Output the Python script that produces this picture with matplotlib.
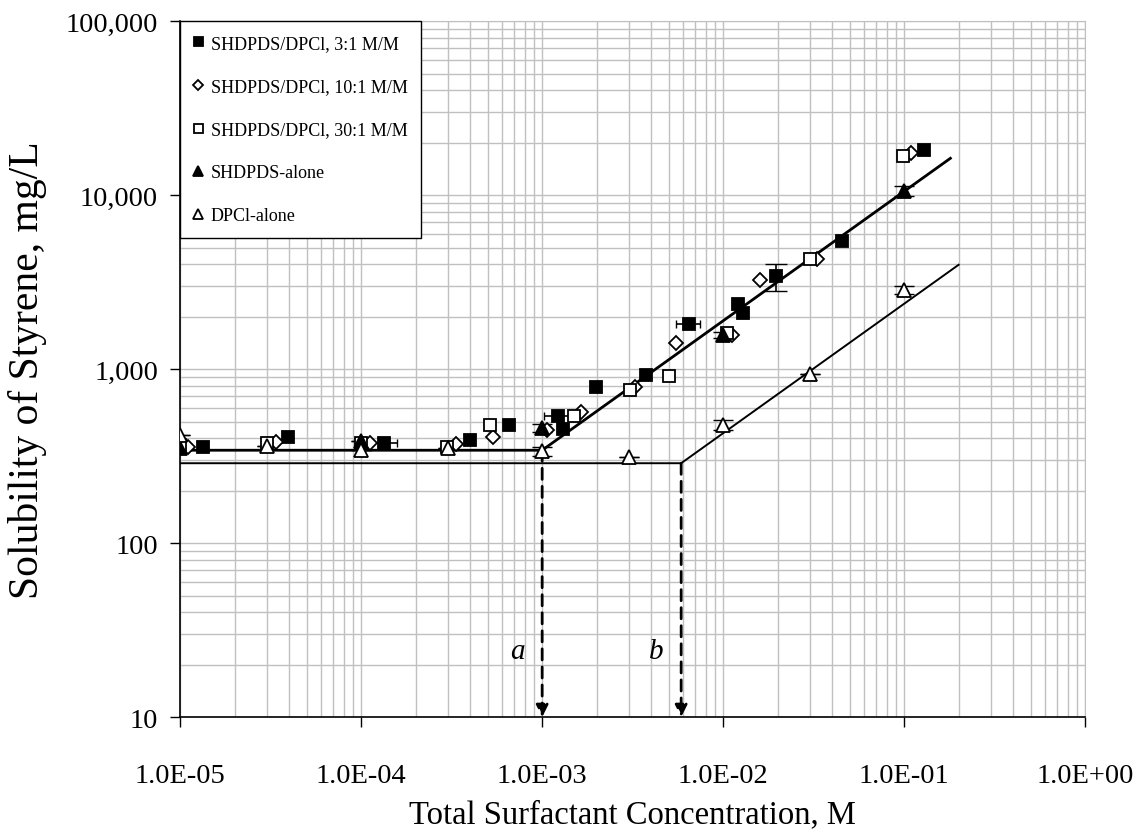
import numpy as np
import matplotlib
matplotlib.use("Agg")
import matplotlib.pyplot as plt
from matplotlib.ticker import FixedLocator, LogLocator, NullFormatter

plt.rcParams["font.family"] = ["Liberation Serif", "DejaVu Serif"]

# ---- measured solubility data (total surfactant M, styrene mg/L) ----
mix31_x = [1.34e-5, 3.96e-5, 1.33e-4, 4.0e-4, 6.6e-4, 1.23e-3, 1.31e-3, 1.99e-3,
           3.76e-3, 6.49e-3, 1.21e-2, 1.28e-2, 1.96e-2, 4.56e-2, 0.128]
mix31_y = [359, 405, 375, 392, 475, 539, 454, 785,
           927, 1821, 2364, 2099, 3437, 5420, 18200]

mix101_x = [1.11e-5, 3.39e-5, 1.12e-4, 3.35e-4, 5.38e-4, 1.06e-3, 1.64e-3, 3.26e-3,
            5.48e-3, 1.12e-2, 1.60e-2, 3.29e-2, 0.109]
mix101_y = [356, 381, 375, 371, 405, 448, 571, 785,
            1423, 1562, 3260, 4290, 17430]

mix301_x = [1.0e-5, 3.01e-5, 1.0e-4, 2.97e-4, 5.13e-4, 1.5e-3, 3.06e-3, 5.05e-3,
            1.05e-2, 3.03e-2, 0.0984]
mix301_y = [365, 377, 375, 359, 475, 539, 761, 908,
            1610, 4290, 16700]

shdpds_x = [1.0e-5, 1.0e-4, 1.0e-3, 1.0e-2, 0.1]
shdpds_y = [351, 385, 458, 1575, 10580]

dpcl_x = [1.0e-5, 3.0e-5, 1.0e-4, 3.0e-4, 1.0e-3, 3.0e-3, 1.0e-2, 3.0e-2, 0.1]
dpcl_y = [419, 361, 344, 350, 337, 311, 478, 936, 2855]

# error bars on selected points
mix31_err_x = [1.33e-4, 1.23e-3, 6.49e-3]
mix31_err_y = [375, 539, 1821]
mix31_err_dx = [0.25e-4, 0.2e-3, 1.0e-3]
mix31_bar_x = [1.96e-2]
mix31_bar_y = [3437]
mix31_bar_lo = [2818]
mix31_bar_hi = [4030]
shdpds_bar_dy = [0, 0, 25, 60, 700]
dpcl_bar_dy = [0, 0, 0, 0, 20, 0, 30, 0, 150]

# piecewise fits: constant below the break, power law above
fit_a_break, fit_a_level, fit_a_end = 1.0e-3, 342.0, 0.18
fit_b_break, fit_b_level, fit_b_end = 5.86e-3, 288.0, 0.20
fit_slope = 0.744

series_labels = ["SHDPDS/DPCl, 3:1 M/M", "SHDPDS/DPCl, 10:1 M/M",
                 "SHDPDS/DPCl, 30:1 M/M", "SHDPDS-alone", "DPCl-alone"]
x_ticks = [1e-5, 1e-4, 1e-3, 1e-2, 1e-1, 1e0]
x_tick_labels = ["1.0E-05", "1.0E-04", "1.0E-03", "1.0E-02", "1.0E-01", "1.0E+00"]
y_ticks = [10, 100, 1000, 10000, 100000]
y_tick_labels = ["10", "100", "1,000", "10,000", "100,000"]

fig = plt.figure(figsize=(11.33, 8.37), dpi=100)
ax = fig.add_axes([0.159, 0.142, 0.7988, 0.8315])
ax.set_xscale("log")
ax.set_yscale("log")
ax.set_xlim(1e-5, 1.0)
ax.set_ylim(10, 100000)

grid_c = "#c0c0c0"
ax.xaxis.set_minor_locator(LogLocator(base=10, subs=np.arange(2, 10)))
ax.yaxis.set_minor_locator(LogLocator(base=10, subs=np.arange(2, 10)))
ax.xaxis.set_minor_formatter(NullFormatter())
ax.yaxis.set_minor_formatter(NullFormatter())
ax.grid(True, which="both", color=grid_c, lw=1.0)
ax.set_axisbelow(True)
ax.tick_params(which="minor", length=0)
ax.tick_params(which="major", direction="out", length=7, width=1, color="black",
               labelsize=20.5)
ax.tick_params(axis="x", pad=26)
ax.tick_params(axis="y", pad=9)
ax.xaxis.set_major_locator(FixedLocator(x_ticks))
ax.set_xticklabels(x_tick_labels)
ax.yaxis.set_major_locator(FixedLocator(y_ticks))
ax.set_yticklabels(y_tick_labels)
for side in ("top", "right"):
    ax.spines[side].set_color(grid_c)
for side in ("left", "bottom"):
    ax.spines[side].set_color("black")
    ax.spines[side].set_linewidth(1.2)

# fitted lines
def fit_line(brk, level, end):
    xs = np.array([1e-5, brk, end])
    ys = np.where(xs <= brk, level, level * (xs / brk) ** fit_slope)
    return xs, ys

xa, ya = fit_line(fit_a_break, fit_a_level, fit_a_end)
xb, yb = fit_line(fit_b_break, fit_b_level, fit_b_end)
ax.plot(xa, ya, color="black", lw=2.0, zorder=2)
ax.plot(xb, yb, color="black", lw=1.4, zorder=2)

# dashed drop lines to the x axis
for brk, lvl in ((fit_a_break, fit_a_level), (fit_b_break, fit_b_level)):
    ax.annotate("", xy=(brk, 10), xytext=(brk, lvl),
                arrowprops=dict(arrowstyle="-|>", color="black", lw=2.0,
                                linestyle=(0, (4, 2.5)), mutation_scale=18,
                                shrinkA=0, shrinkB=0), zorder=2)
ax.text(fit_a_break * 0.8, 24, "a", fontsize=21, style="italic",
        ha="right", va="center")
ax.text(fit_b_break * 0.8, 24, "b", fontsize=21, style="italic",
        ha="right", va="center")

ms = 9
mew = 1.3
# error bars
ax.errorbar(mix31_err_x, mix31_err_y, xerr=mix31_err_dx, fmt="none",
            ecolor="black", elinewidth=1.2, capsize=3, zorder=3)
ax.errorbar(mix31_bar_x, mix31_bar_y,
            yerr=[np.subtract(mix31_bar_y, mix31_bar_lo),
                  np.subtract(mix31_bar_hi, mix31_bar_y)],
            fmt="none", ecolor="black", elinewidth=1.2, capsize=8, zorder=3)
ax.errorbar(shdpds_x, shdpds_y, yerr=shdpds_bar_dy, fmt="none",
            ecolor="black", elinewidth=1.2, capsize=7, zorder=3)
ax.errorbar(dpcl_x, dpcl_y, yerr=dpcl_bar_dy, fmt="none",
            ecolor="black", elinewidth=1.2, capsize=7, zorder=3)

h1, = ax.plot(mix31_x, mix31_y, ls="none", marker="s", ms=ms, mfc="black",
              mec="black", mew=mew, zorder=4)
h2, = ax.plot(mix101_x, mix101_y, ls="none", marker="D", ms=ms - 1.5,
              mfc="white", mec="black", mew=mew, zorder=4)
h3, = ax.plot(mix301_x, mix301_y, ls="none", marker="s", ms=ms, mfc="white",
              mec="black", mew=mew, zorder=4)
h4, = ax.plot(shdpds_x, shdpds_y, ls="none", marker="^", ms=ms + 1,
              mfc="black", mec="black", mew=mew, zorder=5)
h5, = ax.plot(dpcl_x, dpcl_y, ls="none", marker="^", ms=ms + 1, mfc="white",
              mec="black", mew=mew, zorder=5)

leg = ax.legend([h1, h2, h3, h4, h5], series_labels, loc="upper left",
                bbox_to_anchor=(0.0, 1.0), fontsize=13, markerscale=0.72,
                frameon=True, fancybox=False, framealpha=1.0,
                edgecolor="black", borderpad=0.75, labelspacing=1.45,
                handlelength=0.5, handletextpad=0.45, borderaxespad=0.0)
leg.get_frame().set_linewidth(1.0)
leg.set_zorder(10)

ax.set_xlabel("Total Surfactant Concentration, M", fontsize=23.5, labelpad=8)
ax.set_ylabel("Solubility of Styrene, mg/L", fontsize=30, labelpad=13)

fig.savefig("out.png", dpi=100)
